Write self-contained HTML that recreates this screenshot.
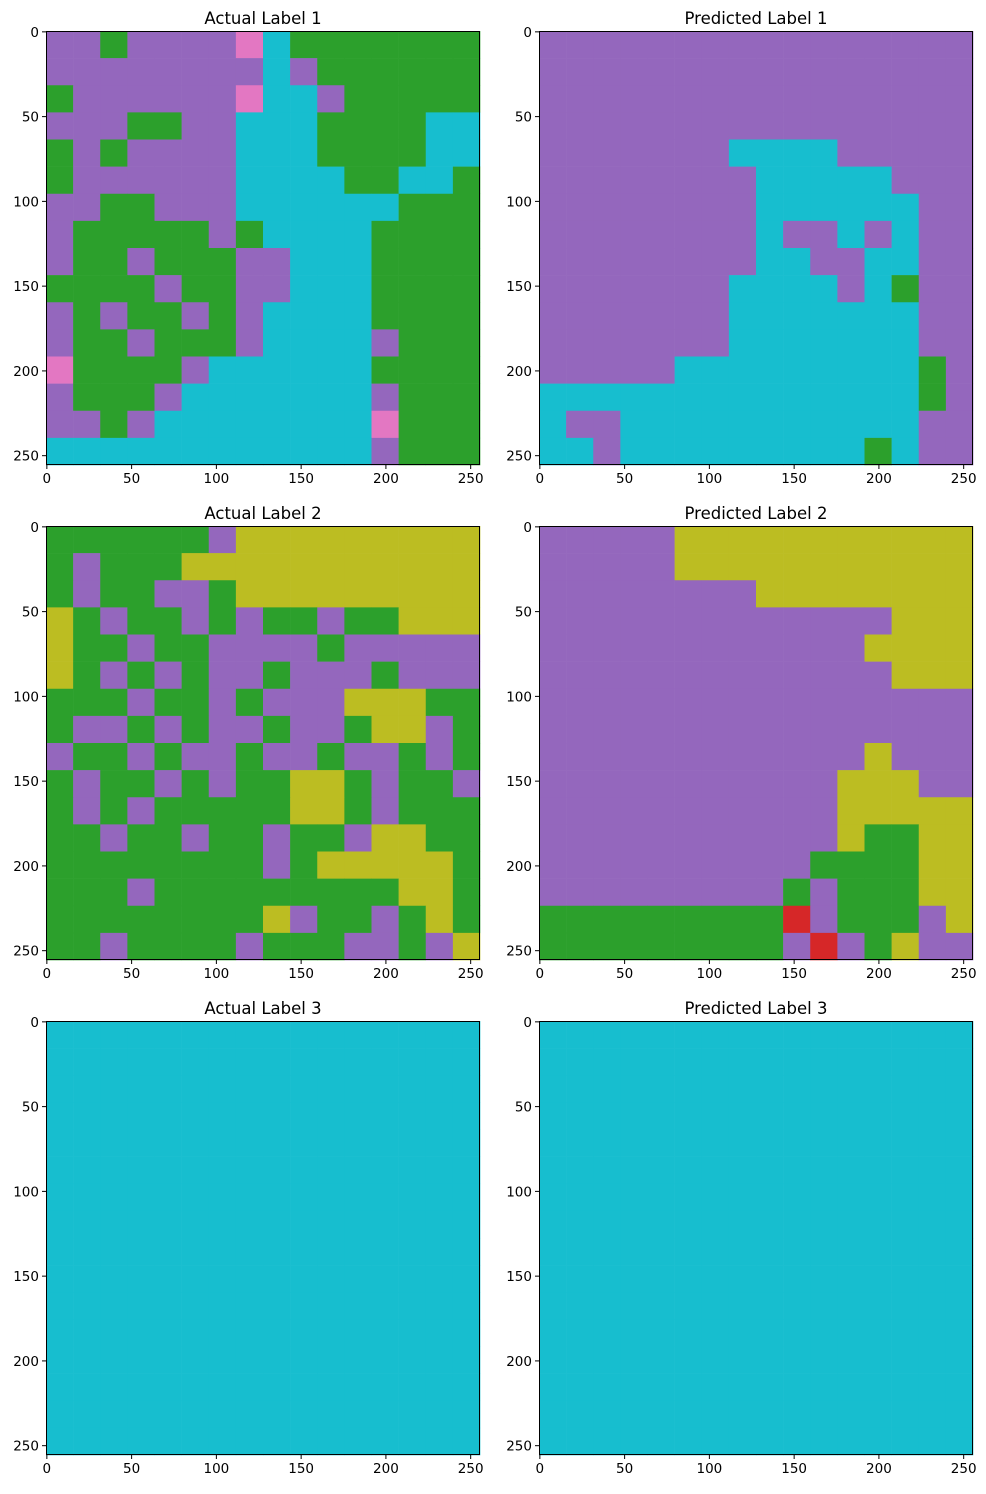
<!DOCTYPE html>
<html><head><meta charset="utf-8"><style>
body{margin:0;background:#fff;}
svg text{font-family:"DejaVu Sans","Liberation Sans",sans-serif;fill:#000;}
</style></head><body>
<svg id="fig" width="986" height="1489" viewBox="0 0 986 1489" xmlns="http://www.w3.org/2000/svg"></svg>
<script>
const classColors = {P:'#9467bd',G:'#2ca02c',C:'#17becf',Y:'#bcbd22',K:'#e377c2',R:'#d62728'};
const tickValues = [0,50,100,150,200,250];
const titles = ['Actual Label 1','Predicted Label 1','Actual Label 2','Predicted Label 2','Actual Label 3','Predicted Label 3'];
const actual1 = [
"PPGPPPPKCGGGGGGG","PPPPPPPPCPGGGGGG","GPPPPPPKCCPGGGGG","PPPGGPPCCCGGGGCC",
"GPGPPPPCCCGGGGCC","GPPPPPPCCCCGGCCG","PPGGPPPCCCCCCGGG","PGGGGGPGCCCCGGGG",
"PGGPGGGPPCCCGGGG","GGGGPGGPPCCCGGGG","PGPGGPGPCCCCGGGG","PGGPGGGPCCCCPGGG",
"KGGGGPCCCCCCGGGG","PGGGPCCCCCCCPGGG","PPGPCCCCCCCCKGGG","CCCCCCCCCCCCPGGG"];
const predicted1 = [
"PPPPPPPPPPPPPPPP","PPPPPPPPPPPPPPPP","PPPPPPPPPPPPPPPP","PPPPPPPPPPPPPPPP",
"PPPPPPPCCCCPPPPP","PPPPPPPPCCCCCPPP","PPPPPPPPCCCCCCPP","PPPPPPPPCPPCPCPP",
"PPPPPPPPCCPPCCPP","PPPPPPPCCCCPCGPP","PPPPPPPCCCCCCCPP","PPPPPPPCCCCCCCPP",
"PPPPPCCCCCCCCCGP","CCCCCCCCCCCCCCGP","CPPCCCCCCCCCCCPP","CCPCCCCCCCCCGCPP"];
const actual2 = [
"GGGGGGPYYYYYYYYY","GPGGGYYYYYYYYYYY","GPGGPPGYYYYYYYYY","YGPGGPGPGGPGGYYY",
"YGGPGGPPPPGPPPPP","YGPGPGPPGPPPGPPP","GGGPGGPGPPPYYYGG","GPPGPGPPGPPGYYPG",
"PGGPGPPGPPGPPGPG","GPGGPGPGGYYGPGGP","GPGPGGGGGYYGPGGG","GGPGGPGGPGGPYYGG",
"GGGGGGGGPGYYYYYG","GGGPGGGGGGGGGYYG","GGGGGGGGYPGGPGYG","GGPGGGGPGGGPPGPY"];
const predicted2 = [
"PPPPPYYYYYYYYYYY","PPPPPYYYYYYYYYYY","PPPPPPPPYYYYYYYY","PPPPPPPPPPPPPYYY",
"PPPPPPPPPPPPYYYY","PPPPPPPPPPPPPYYY","PPPPPPPPPPPPPPPP","PPPPPPPPPPPPPPPP",
"PPPPPPPPPPPPYPPP","PPPPPPPPPPPYYYPP","PPPPPPPPPPPYYYYY","PPPPPPPPPPPYGGYY",
"PPPPPPPPPPGGGGYY","PPPPPPPPPGPGGGYY","GGGGGGGGGRPGGGPY","GGGGGGGGGPRPGYPP"];
const actual3 = Array(16).fill("CCCCCCCCCCCCCCCC");
const predicted3 = Array(16).fill("CCCCCCCCCCCCCCCC");
const grids = [actual1,predicted1,actual2,predicted2,actual3,predicted3];

const NS='http://www.w3.org/2000/svg';
const svg=document.getElementById('fig');
const colX=[46,539], rowY=[31,526,1021], W=434, H=434, N=256;
function mk(tag,attrs,parent){const e=document.createElementNS(NS,tag);for(const k in attrs)e.setAttribute(k,attrs[k]);(parent||svg).appendChild(e);return e;}
grids.forEach((grid,i)=>{
  const x0=colX[i%2], y0=rowY[Math.floor(i/2)];
  const sx=v=>x0+(v+0.5)*W/N, sy=v=>y0+(v+0.5)*H/N;
  const g=mk('g',{});
  
  
  const rows=grid.length, cols=grid[0].length, cw=N/cols, ch=N/rows;
  grid.forEach((row,r)=>{for(let c=0;c<cols;c++){
    const x1=sx(c*cw-0.5), x2=sx((c+1)*cw-0.5), y1=sy(r*ch-0.5), y2=sy((r+1)*ch-0.5);
    const cell=mk('rect',{x:x1,y:y1,width:x2-x1+0.3,height:y2-y1+0.3,fill:classColors[row[c]]},g);
    
    
  }});
  const frame=mk('rect',{x:x0+0.5,y:y0+0.5,width:W-1,height:H-1,fill:'none',stroke:'#000','stroke-width':1},g);
  
  
  tickValues.forEach(t=>{
    const px=sx(t), py=sy(t);
    mk('line',{x1:px,x2:px,y1:y0+H,y2:y0+H+4,stroke:'#000'},g);
    const xl=mk('text',{x:px,y:y0+H+18,'text-anchor':'middle','font-size':13.5},g);
    xl.textContent=t;
    
    
    mk('line',{x1:x0-4,x2:x0,y1:py,y2:py,stroke:'#000'},g);
    const yl=mk('text',{x:x0-7,y:py+5,'text-anchor':'end','font-size':13.5},g);
    yl.textContent=t;
    
    
  });
  const tt=mk('text',{x:x0+W/2,y:y0-7,'text-anchor':'middle','font-size':16.5},g);
  tt.textContent=titles[i];
  
  
});
</script>
</body></html>
